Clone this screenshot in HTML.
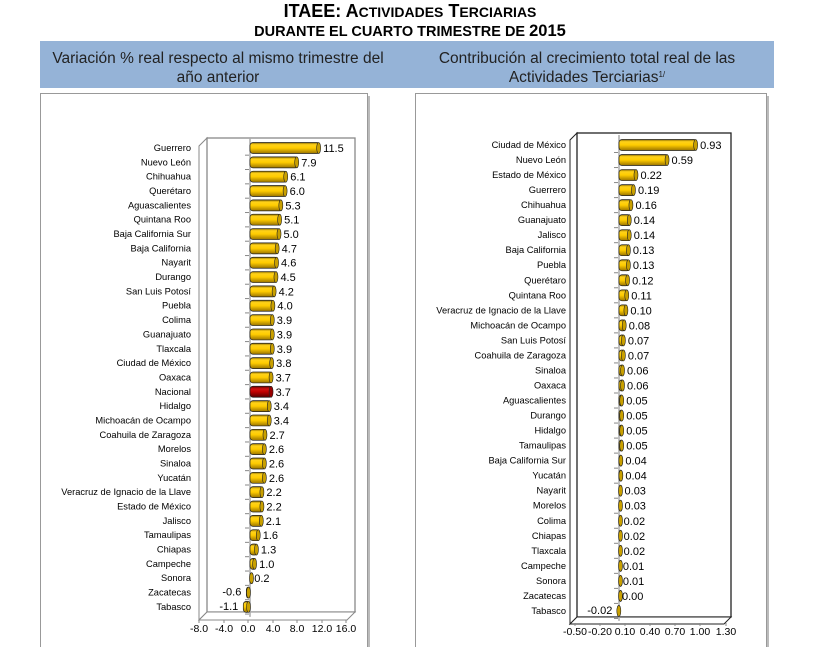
<!DOCTYPE html>
<html><head><meta charset="utf-8"><style>
body{margin:0;background:#fff;width:819px;height:647px;overflow:hidden;font-family:"Liberation Sans",sans-serif}
</style></head><body>
<svg id="s" width="819" height="647" xmlns="http://www.w3.org/2000/svg" font-family="Liberation Sans, sans-serif">
<defs>
<linearGradient id="g" x1="0" y1="0" x2="0" y2="1"><stop offset="0" stop-color="#8a6a00"/><stop offset="0.2" stop-color="#ffd21a"/><stop offset="0.5" stop-color="#ffcc00"/><stop offset="1" stop-color="#9a7400"/></linearGradient>
<linearGradient id="r" x1="0" y1="0" x2="0" y2="1"><stop offset="0" stop-color="#600"/><stop offset="0.25" stop-color="#d01010"/><stop offset="0.5" stop-color="#c00000"/><stop offset="1" stop-color="#500"/></linearGradient>
</defs>
<text x="410" y="17" text-anchor="middle" font-weight="bold" font-size="18">ITAEE: A<tspan font-size="14">CTIVIDADES</tspan> T<tspan font-size="14">ERCIARIAS</tspan></text>
<text x="410" y="36" text-anchor="middle" font-weight="bold" font-size="14.5">DURANTE EL CUARTO TRIMESTRE DE <tspan font-size="16.5">2015</tspan></text>
<rect x="40" y="41" width="734" height="47" fill="#95b3d7"/>
<text x="218" y="63" text-anchor="middle" font-size="15.5" fill="#222">Variación % real respecto al mismo trimestre del</text>
<text x="218" y="82" text-anchor="middle" font-size="15.5" fill="#222">año anterior</text>
<text x="587" y="63" text-anchor="middle" font-size="15.5" fill="#222">Contribución al crecimiento total real de las</text>
<text x="587" y="82" text-anchor="middle" font-size="15.5" fill="#222">Actividades Terciarias<tspan font-size="8" dy="-5">1/</tspan></text>
<rect x="40.5" y="93.5" width="327" height="560" fill="#fff" stroke="#999"/>
<rect x="368" y="96" width="2" height="560" fill="#bbb"/>
<rect x="415.5" y="93.5" width="351" height="560" fill="#fff" stroke="#999"/>
<rect x="767" y="96" width="2" height="560" fill="#bbb"/>
<g id="c"></g>
</svg>
<script>
var c=document.getElementById('c'),h='';
function frame(x0,x1,yt,yb,d,col){
 h+='<polygon points="'+(x0-d)+','+(yt+d)+' '+x0+','+yt+' '+x0+','+yb+' '+(x0-d)+','+(yb+d)+'" fill="#fff" stroke="'+col+'"/>';
 h+='<rect x="'+x0+'" y="'+yt+'" width="'+(x1-x0)+'" height="'+(yb-yt)+'" fill="#fff" stroke="'+col+'" stroke-width="1.3"/>';
 h+='<polygon points="'+(x0-d)+','+(yb+d)+' '+(x1-d)+','+(yb+d)+' '+x1+','+yb+' '+x0+','+yb+'" fill="#fff" stroke="'+col+'"/>';
}
function chart(L,y0,dy,z,sc,lx,axx,axv,axy,dec,bh){
 h+='<line x1="'+z+'" y1="'+(y0-10)+'" x2="'+z+'" y2="'+(y0+dy*(L.length-1)+10)+'" stroke="#aaa" stroke-width="1.5"/>';
 L.forEach(function(e,i){
  var y=y0+i*dy,v=e[1],x1=z,x2=z+v*sc;if(x2<x1){var t=x1;x1=x2;x2=t;}
  var w=Math.max(x2-x1,3);
  var f=e[0]=='Nacional'?'url(#r)':'url(#g)';
  h+='<rect x="'+x1+'" y="'+(y-bh/2)+'" width="'+w+'" height="'+bh+'" rx="3" fill="'+f+'" stroke="#222" stroke-width="0.7"/>';
  h+='<ellipse cx="'+(x1+w-1.5)+'" cy="'+y+'" rx="2" ry="'+(bh/2)+'" fill="'+(e[0]=='Nacional'?'#900':'#c9a000')+'" stroke="#222" stroke-width="0.6"/>';
  h+='<line x1="'+(z-5)+'" y1="'+(y+dy/2)+'" x2="'+(z-1)+'" y2="'+(y+dy/2)+'" stroke="#888"/>';
  h+='<text x="'+lx+'" y="'+(y+3)+'" text-anchor="end" font-size="9.3">'+e[0]+'</text>';
  var s=v.toFixed(dec);
  if(v<0)h+='<text x="'+(z+v*sc-5)+'" y="'+(y+3)+'" text-anchor="end" font-size="11">'+s+'</text>';
  else h+='<text x="'+(z+v*sc+3)+'" y="'+(y+4)+'" font-size="11">'+s+'</text>';
 });
 axx.forEach(function(x,i){h+='<text x="'+x+'" y="'+axy+'" text-anchor="middle" font-size="10.5">'+axv[i]+'</text>';h+='<line x1="'+x+'" y1="'+(axy-12)+'" x2="'+x+'" y2="'+(axy-9)+'" stroke="#888"/>';});
}
var A=[["Guerrero",11.5],["Nuevo León",7.9],["Chihuahua",6.1],["Querétaro",6.0],["Aguascalientes",5.3],["Quintana Roo",5.1],["Baja California Sur",5.0],["Baja California",4.7],["Nayarit",4.6],["Durango",4.5],["San Luis Potosí",4.2],["Puebla",4.0],["Colima",3.9],["Guanajuato",3.9],["Tlaxcala",3.9],["Ciudad de México",3.8],["Oaxaca",3.7],["Nacional",3.7],["Hidalgo",3.4],["Michoacán de Ocampo",3.4],["Coahuila de Zaragoza",2.7],["Morelos",2.6],["Sinaloa",2.6],["Yucatán",2.6],["Veracruz de Ignacio de la Llave",2.2],["Estado de México",2.2],["Jalisco",2.1],["Tamaulipas",1.6],["Chiapas",1.3],["Campeche",1.0],["Sonora",0.2],["Zacatecas",-0.6],["Tabasco",-1.1]];
var B=[["Ciudad de México",.93],["Nuevo León",.59],["Estado de México",.22],["Guerrero",.19],["Chihuahua",.16],["Guanajuato",.14],["Jalisco",.14],["Baja California",.13],["Puebla",.13],["Querétaro",.12],["Quintana Roo",.11],["Veracruz de Ignacio de la Llave",.10],["Michoacán de Ocampo",.08],["San Luis Potosí",.07],["Coahuila de Zaragoza",.07],["Sinaloa",.06],["Oaxaca",.06],["Aguascalientes",.05],["Durango",.05],["Hidalgo",.05],["Tamaulipas",.05],["Baja California Sur",.04],["Yucatán",.04],["Nayarit",.03],["Morelos",.03],["Colima",.02],["Chiapas",.02],["Tlaxcala",.02],["Campeche",.01],["Sonora",.01],["Zacatecas",.00],["Tabasco",-.02]];
frame(207,355,138,612,8,"#888");
chart(A,148,14.34,250,6.1,191,[199,224,248,273,297,322,346],["-8.0","-4.0","0.0","4.0","8.0","12.0","16.0"],632,1,11);
frame(577,731,133,617,7,"#222");
chart(B,145,15.03,619,84,566,[575,600,625,650,675,700,726],["-0.50","-0.20","0.10","0.40","0.70","1.00","1.30"],635,2,11);
c.innerHTML=h;
</script>
</body></html>
